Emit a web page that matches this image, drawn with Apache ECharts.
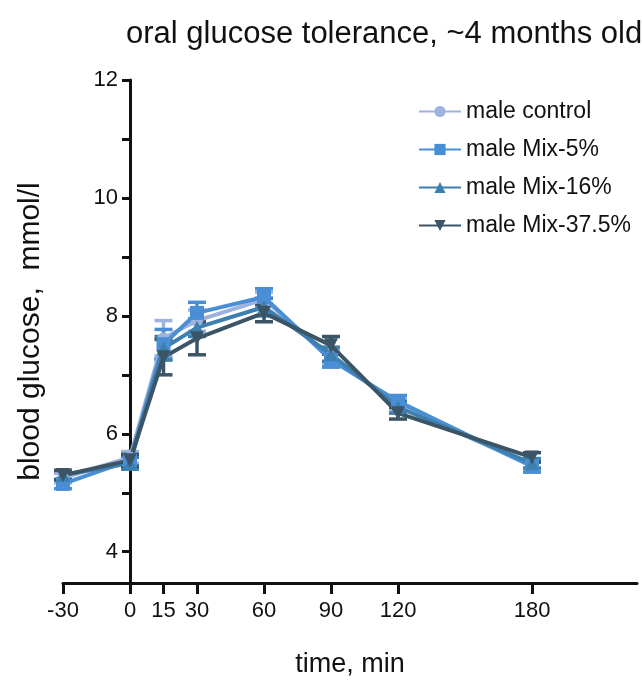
<!DOCTYPE html>
<html>
<head>
<meta charset="utf-8">
<script src="https://cdn.jsdelivr.net/npm/echarts@6/dist/echarts.min.js"></script>
<style>html,body{margin:0;padding:0;background:#fff}#c{width:642px;height:689px}</style>
</head>
<body>
<div id="c"></div>
<script>
// ---- data ----
const times = [-30, 0, 15, 30, 60, 90, 120, 180];
const xTickLabels = [-30, 0, 15, 30, 60, 90, 120, 180];
const yTickValues = [4, 5, 6, 7, 8, 9, 10, 11, 12];
const yTickLabels = [4, 6, 8, 10, 12];
const seriesNames = ['male control', 'male Mix-5%', 'male Mix-16%', 'male Mix-37.5%'];
const controlMean = [5.25, 5.60, 7.62, 7.92, 8.28, 7.30, 6.50, 5.45];
const controlSem  = [0.08, 0.10, 0.30, 0.18, 0.12, 0.12, 0.10, 0.08];
const mix5Mean    = [5.15, 5.55, 7.52, 8.05, 8.32, 7.25, 6.55, 5.45];
const mix5Sem     = [0.08, 0.10, 0.25, 0.18, 0.14, 0.12, 0.10, 0.10];
const mix16Mean   = [5.30, 5.50, 7.45, 7.80, 8.15, 7.35, 6.45, 5.50];
const mix16Sem    = [0.08, 0.10, 0.20, 0.15, 0.15, 0.12, 0.10, 0.08];
const mix37Mean   = [5.30, 5.55, 7.30, 7.62, 8.05, 7.50, 6.35, 5.60];
const mix37Sem    = [0.08, 0.10, 0.30, 0.28, 0.15, 0.15, 0.10, 0.08];

const means = [controlMean, mix5Mean, mix16Mean, mix37Mean];
const sems = [controlSem, mix5Sem, mix16Sem, mix37Sem];
const colors = ['#9db2de', '#4a8fd6', '#3d7fae', '#3b5566'];
const symbols = ['circle', 'rect', 'triangle', 'triangle'];
const rotations = [0, 0, 0, 180];
const FONT = "'Liberation Sans',Arial,sans-serif";

const chart = echarts.init(document.getElementById('c'), null, {renderer: 'canvas'});
const series = [];
seriesNames.forEach((name, i) => {
  series.push({
    name: name + ' err',
    type: 'custom',
    z: 2,
    silent: true,
    data: times.map((t, k) => [t, means[i][k] - sems[i][k], means[i][k] + sems[i][k]]),
    renderItem: function (params, api) {
      const x = api.value(0);
      const lo = api.coord([x, api.value(1)]);
      const hi = api.coord([x, api.value(2)]);
      const w = 9;
      const st = {stroke: colors[i], lineWidth: 3.5};
      return {type: 'group', children: [
        {type: 'line', shape: {x1: lo[0], y1: lo[1], x2: hi[0], y2: hi[1]}, style: st},
        {type: 'line', shape: {x1: lo[0] - w, y1: lo[1], x2: lo[0] + w, y2: lo[1]}, style: st},
        {type: 'line', shape: {x1: hi[0] - w, y1: hi[1], x2: hi[0] + w, y2: hi[1]}, style: st}
      ]};
    }
  });
});
seriesNames.forEach((name, i) => {
  series.push({
    name: name,
    type: 'line',
    z: 3,
    data: times.map((t, k) => [t, means[i][k]]),
    symbol: symbols[i],
    symbolRotate: rotations[i],
    symbolSize: i === 0 ? 12 : 14,
    showAllSymbol: true,
    lineStyle: {color: colors[i], width: 4},
    itemStyle: {color: colors[i]},
    emphasis: {disabled: true}
  });
});

chart.setOption({
  animation: false,
  backgroundColor: '#fff',
  textStyle: {fontFamily: FONT},
  title: {
    text: 'oral glucose tolerance, ~4 months old',
    left: 121, top: 14,
    textStyle: {fontFamily: FONT, fontSize: 31, fontWeight: 'normal', color: '#111'}
  },
  legend: {
    data: seriesNames,
    orient: 'vertical',
    left: 413, top: 95,
    itemWidth: 42, itemHeight: 14, itemGap: 15,
    textStyle: {fontFamily: FONT, fontSize: 23, color: '#111'}
  },
  grid: {left: 63, right: 5, top: 80, bottom: 106, containLabel: false, outerBoundsMode: 'none'},
  xAxis: {
    type: 'value', min: -30, max: 227,
    name: 'time, min', nameLocation: 'middle', nameGap: 68,
    nameTextStyle: {fontFamily: FONT, fontSize: 27, color: '#111'},
    axisLine: {onZero: false, lineStyle: {color: '#111', width: 3}},
    axisTick: {customValues: xTickLabels, length: 11, lineStyle: {width: 3, color: '#111'}},
    axisLabel: {customValues: xTickLabels, margin: 17, fontSize: 22, color: '#111', fontFamily: FONT},
    splitLine: {show: false}
  },
  yAxis: {
    type: 'value', min: 3.47, max: 12,
    offset: -67,
    name: 'blood glucose,  mmol/l', nameLocation: 'middle', nameGap: 84,
    nameTextStyle: {fontFamily: FONT, fontSize: 30, color: '#111'},
    axisLine: {show: true, onZero: false, lineStyle: {color: '#111', width: 3}},
    axisTick: {customValues: yTickValues, length: 8, lineStyle: {width: 3, color: '#111'}},
    axisLabel: {customValues: yTickLabels, margin: 12, fontSize: 22, color: '#111', fontFamily: FONT},
    splitLine: {show: false}
  },
  series: series
});
</script>
</body>
</html>
